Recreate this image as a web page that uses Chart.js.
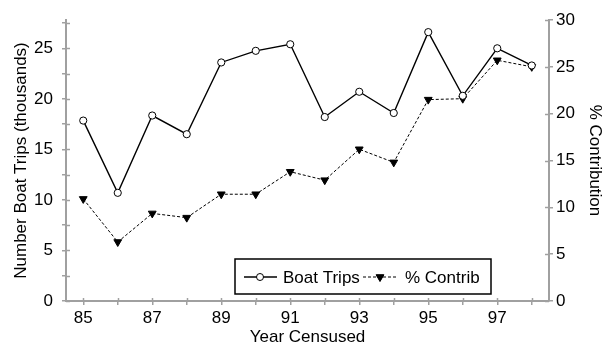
<!DOCTYPE html>
<html>
<head>
<meta charset="utf-8">
<script src="https://cdn.jsdelivr.net/npm/chart.js@4"></script>
<style>
  html, body { margin: 0; padding: 0; background: #fff; }
  #wrap { width: 605px; height: 345px; }
</style>
</head>
<body>
<div id="wrap"><canvas id="tripsChart" width="605" height="345"></canvas></div>
<script>
// census years (19xx) and the two series
const years = [85, 86, 87, 88, 89, 90, 91, 92, 93, 94, 95, 96, 97, 98];
const boatTrips = [17.85, 10.7, 18.35, 16.5, 23.6, 24.75, 25.4, 18.2, 20.7, 18.6, 26.6, 20.3, 25.0, 23.3];
const contrib = [10.9, 6.3, 9.35, 8.9, 11.4, 11.4, 13.8, 12.9, 16.2, 14.8, 21.5, 21.6, 25.7, 25.0];
const labelYears = [85, 87, 89, 91, 93, 95, 97];
const seriesNames = ["Boat Trips", "% Contrib"];

const FONT = "'Liberation Sans', Arial, sans-serif";
const AXIS_GRAY = "#a0a0a0";

// ticks that cross the axis lines (Chart.js only draws the outside half)
const innerTicks = {
    id: "innerTicks",
    afterDraw(chart) {
        const ctx = chart.ctx;
        ctx.save();
        ctx.strokeStyle = AXIS_GRAY;
        ctx.lineWidth = 1.5;
        ["y", "y1"].forEach(id => {
            const sc = chart.scales[id];
            const x0 = id === "y" ? sc.right : sc.left;
            const dir = id === "y" ? 1 : -1;
            sc.ticks.forEach(t => {
                const py = Math.round(sc.getPixelForValue(t.value)) + 0.5;
                ctx.beginPath();
                ctx.moveTo(x0, py);
                ctx.lineTo(x0 + dir * 4, py);
                ctx.stroke();
            });
        });
        const xs = chart.scales.x;
        xs.ticks.forEach(t => {
            const px = Math.round(xs.getPixelForValue(t.value)) + 0.5;
            ctx.beginPath();
            ctx.moveTo(px, xs.top);
            ctx.lineTo(px, xs.top - 3);
            ctx.stroke();
        });
        ctx.restore();
    }
};

// boxed legend sitting inside the plot area
const boxLegend = {
    id: "boxLegend",
    afterDraw(chart) {
        const ctx = chart.ctx;
        ctx.save();
        ctx.strokeStyle = "#000";
        ctx.lineWidth = 1.5;
        ctx.strokeRect(235, 259, 256, 35);

        const cy = 277;
        ctx.font = "17px " + FONT;
        ctx.fillStyle = "#000";
        ctx.textBaseline = "middle";

        // boat trips sample
        ctx.lineWidth = 1.3;
        ctx.setLineDash([]);
        ctx.beginPath(); ctx.moveTo(244, cy); ctx.lineTo(277, cy); ctx.stroke();
        ctx.fillStyle = "#fff";
        ctx.lineWidth = 1;
        ctx.beginPath(); ctx.arc(260, cy, 3.5, 0, Math.PI * 2); ctx.fill(); ctx.stroke();
        ctx.fillStyle = "#000";
        ctx.fillText(seriesNames[0], 283, cy + 1);

        // % contrib sample
        ctx.lineWidth = 1;
        ctx.setLineDash([3, 2]);
        ctx.beginPath(); ctx.moveTo(363, cy); ctx.lineTo(397, cy); ctx.stroke();
        ctx.setLineDash([]);
        Chart.helpers.drawPoint(ctx, { pointStyle: "triangle", radius: 4.5, rotation: 180, borderWidth: 1 }, 380, cy);
        ctx.fill();
        ctx.fillText(seriesNames[1], 405, cy + 1);
        ctx.restore();
    }
};

const ctx = document.getElementById("tripsChart").getContext("2d");
new Chart(ctx, {
    type: "line",
    data: {
        datasets: [
            {
                label: seriesNames[0],
                data: years.map((y, i) => ({ x: y, y: boatTrips[i] })),
                yAxisID: "y",
                borderColor: "#000",
                borderWidth: 1.4,
                pointStyle: "circle",
                pointRadius: 3.6,
                pointBackgroundColor: "#fff",
                pointBorderColor: "#000",
                pointBorderWidth: 1,
                tension: 0
            },
            {
                label: seriesNames[1],
                data: years.map((y, i) => ({ x: y, y: contrib[i] })),
                yAxisID: "y1",
                borderColor: "#000",
                borderWidth: 1,
                borderDash: [3, 2],
                pointStyle: "triangle",
                pointRotation: 180,
                pointRadius: 4.5,
                pointBackgroundColor: "#000",
                pointBorderColor: "#000",
                pointBorderWidth: 1,
                tension: 0
            }
        ]
    },
    options: {
        responsive: false,
        animation: false,
        events: [],
        layout: { padding: { top: 20, left: 0, right: 0, bottom: 0 } },
        plugins: {
            legend: { display: false },
            tooltip: { enabled: false }
        },
        scales: {
            x: {
                type: "linear",
                min: 84.5,
                max: 98.5,
                afterFit: s => { s.height = 44; },
                afterBuildTicks: s => { s.ticks = years.map(v => ({ value: v })); },
                border: { color: AXIS_GRAY, width: 2 },
                grid: { drawOnChartArea: false, drawTicks: true, tickLength: 4, color: AXIS_GRAY, lineWidth: 1.5 },
                ticks: {
                    autoSkip: false,
                    maxRotation: 0,
                    color: "#000",
                    padding: 3,
                    font: { family: FONT, size: 17 },
                    callback: v => labelYears.includes(v) ? String(v) : ""
                },
                title: {
                    display: true,
                    text: "Year Censused",
                    color: "#000",
                    font: { family: FONT, size: 17 },
                    padding: { top: 0, bottom: -3 }
                }
            },
            y: {
                position: "left",
                min: 0,
                max: 27.8,
                afterFit: s => { s.width = 66; },
                border: { color: AXIS_GRAY, width: 2 },
                grid: { drawOnChartArea: false, drawTicks: true, tickLength: 4, color: AXIS_GRAY, lineWidth: 1.5 },
                ticks: {
                    stepSize: 2.5,
                    includeBounds: false,
                    color: "#000",
                    padding: 9,
                    font: { family: FONT, size: 17 },
                    callback: v => v % 5 === 0 ? String(v) : ""
                },
                title: {
                    display: true,
                    text: "Number Boat Trips (thousands)",
                    color: "#000",
                    font: { family: FONT, size: 17 },
                    padding: { top: 11, bottom: 0 }
                }
            },
            y1: {
                position: "right",
                min: 0,
                max: 30,
                afterFit: s => { s.width = 56; },
                border: { color: AXIS_GRAY, width: 2 },
                grid: { drawOnChartArea: false, drawTicks: true, tickLength: 4, color: AXIS_GRAY, lineWidth: 1.5 },
                ticks: {
                    stepSize: 5,
                    color: "#000",
                    padding: 3,
                    font: { family: FONT, size: 17 }
                },
                title: {
                    display: true,
                    text: "% Contribution",
                    color: "#000",
                    font: { family: FONT, size: 17 },
                    padding: { top: 0, bottom: 0 }
                }
            }
        }
    },
    plugins: [innerTicks, boxLegend]
});
</script>
</body>
</html>
